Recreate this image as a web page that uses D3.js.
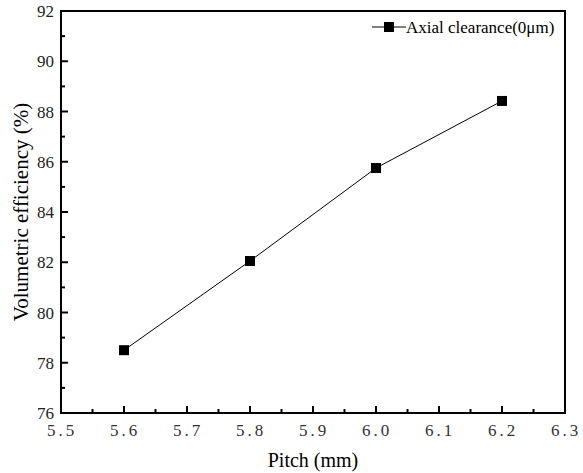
<!DOCTYPE html>
<html>
<head>
<meta charset="utf-8">
<script src="https://cdn.jsdelivr.net/npm/d3@7"></script>
<style>
body { margin: 0; background: #fff; }
</style>
</head>
<body>
<svg width="583" height="473"></svg>
<script>
var pitch = [5.6, 5.8, 6.0, 6.2];
var efficiency = [78.5, 82.05, 85.75, 88.42];
var xTicks = [5.5, 5.6, 5.7, 5.8, 5.9, 6.0, 6.1, 6.2, 6.3];
var yTicks = [76, 78, 80, 82, 84, 86, 88, 90, 92];
var seriesName = 'Axial clearance(0\u03bcm)';

var font = "'Liberation Serif', 'DejaVu Serif', serif";
var svg = d3.select('svg').attr('font-family', font);
var plotL = 61, plotR = 565, plotT = 11, plotB = 413;

var x = d3.scaleLinear().domain([5.5, 6.3]).range([plotL, plotR]);
var y = d3.scaleLinear().domain([76, 92]).range([plotB, plotT]);

var g = svg.append('g');

// minor ticks
var xMinor = d3.range(5.55, 6.3, 0.1);
var yMinor = d3.range(77, 92, 2);

g.selectAll('.xminor').data(xMinor).enter().append('line')
	.attr('x1', d => x(d)).attr('x2', d => x(d))
	.attr('y1', plotB).attr('y2', plotB - 4)
	.attr('stroke', '#000').attr('stroke-width', 2);
g.selectAll('.xmajor').data(xTicks).enter().append('line')
	.attr('x1', d => x(d)).attr('x2', d => x(d))
	.attr('y1', plotB).attr('y2', plotB - 7)
	.attr('stroke', '#000').attr('stroke-width', 2);
g.selectAll('.yminor').data(yMinor).enter().append('line')
	.attr('x1', plotL).attr('x2', plotL + 4)
	.attr('y1', d => y(d)).attr('y2', d => y(d))
	.attr('stroke', '#000').attr('stroke-width', 2);
g.selectAll('.ymajor').data(yTicks).enter().append('line')
	.attr('x1', plotL).attr('x2', plotL + 7)
	.attr('y1', d => y(d)).attr('y2', d => y(d))
	.attr('stroke', '#000').attr('stroke-width', 2);

// frame
g.append('rect')
	.attr('x', plotL).attr('y', plotT)
	.attr('width', plotR - plotL).attr('height', plotB - plotT)
	.attr('fill', 'none').attr('stroke', '#000').attr('stroke-width', 2);

// tick labels
g.selectAll('.xlab').data(xTicks).enter().append('text')
	.attr('x', d => x(d) + 1).attr('y', plotB + 23)
	.attr('text-anchor', 'middle')
	.attr('font-family', font)
	.attr('font-size', 17)
	.attr('fill', '#333')
	.style('letter-spacing', '3px')
	.text(d => d.toFixed(1));

g.selectAll('.ylab').data(yTicks).enter().append('text')
	.attr('x', plotL - 7).attr('y', d => y(d) + 6)
	.attr('text-anchor', 'end')
	.attr('font-family', font)
	.attr('font-size', 17)
	.attr('fill', '#222')
	.text(d => d);

// axis titles
svg.append('text')
	.attr('x', 313).attr('y', 467)
	.attr('text-anchor', 'middle')
	.attr('font-family', font)
	.attr('font-size', 20)
	.text('Pitch (mm)');

svg.append('text')
	.attr('transform', 'translate(28,' + (plotT + plotB) / 2 + ') rotate(-90)')
	.attr('text-anchor', 'middle')
	.attr('font-family', font)
	.attr('font-size', 21)
	.text('Volumetric efficiency (%)');

// series
var pts = pitch.map((p, i) => [p, efficiency[i]]);
var line = d3.line().x(d => x(d[0])).y(d => y(d[1]));

g.append('path')
	.datum(pts)
	.attr('d', line)
	.attr('fill', 'none')
	.attr('stroke', '#000')
	.attr('stroke-width', 1);

g.selectAll('.pt').data(pts).enter().append('rect')
	.attr('x', d => x(d[0]) - 5).attr('y', d => y(d[1]) - 5)
	.attr('width', 10).attr('height', 10)
	.attr('fill', '#000');

// legend
var lg = svg.append('g').attr('transform', 'translate(372,27)');
lg.append('line').attr('x1', 0).attr('x2', 34).attr('y1', 0).attr('y2', 0)
	.attr('stroke', '#000').attr('stroke-width', 1);
lg.append('rect').attr('x', 12).attr('y', -5).attr('width', 10).attr('height', 10).attr('fill', '#000');
lg.append('text').attr('x', 34).attr('y', 6).attr('font-family', font).attr('font-size', 17).text(seriesName);
</script>
</body>
</html>
